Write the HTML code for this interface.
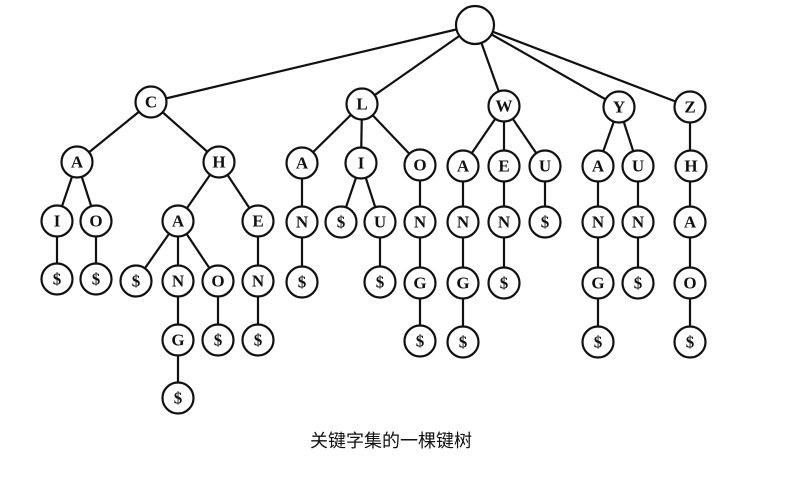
<!DOCTYPE html>
<html><head><meta charset="utf-8"><style>
body{margin:0;background:#fff;width:801px;height:472px;overflow:hidden}
text{font-family:"Liberation Serif",serif;font-size:17px;font-weight:bold;text-anchor:middle;dominant-baseline:central;fill:#111}
.cap{font-family:"Liberation Sans","Noto Sans CJK SC",sans-serif;font-size:18px;font-weight:normal}
</style></head><body>
<svg width="801" height="472" viewBox="0 0 801 472">
<g stroke="#111" stroke-width="2.2">
<line x1="475" y1="25" x2="151" y2="102"/><line x1="475" y1="25" x2="362" y2="104"/><line x1="475" y1="25" x2="504" y2="106"/><line x1="475" y1="25" x2="619" y2="107"/><line x1="475" y1="25" x2="690" y2="107"/>
<line x1="151" y1="102" x2="77" y2="162"/><line x1="151" y1="102" x2="219" y2="162"/>
<line x1="77" y1="162" x2="57" y2="221"/><line x1="77" y1="162" x2="96" y2="221"/>
<line x1="57" y1="221" x2="57" y2="279"/><line x1="96" y1="221" x2="96" y2="279"/>
<line x1="219" y1="162" x2="178" y2="221"/><line x1="219" y1="162" x2="258" y2="221"/>
<line x1="178" y1="221" x2="136" y2="281"/><line x1="178" y1="221" x2="178" y2="281"/><line x1="178" y1="221" x2="218" y2="281"/>
<line x1="178" y1="281" x2="178" y2="398"/><line x1="218" y1="281" x2="218" y2="340"/>
<line x1="258" y1="221" x2="258" y2="340"/>
<line x1="362" y1="104" x2="302" y2="163"/><line x1="362" y1="104" x2="361" y2="163"/><line x1="362" y1="104" x2="420" y2="165"/>
<line x1="302" y1="163" x2="302" y2="282"/>
<line x1="361" y1="163" x2="341" y2="222"/><line x1="361" y1="163" x2="380" y2="222"/><line x1="380" y1="222" x2="380" y2="282"/>
<line x1="420" y1="165" x2="420" y2="341"/>
<line x1="504" y1="106" x2="463" y2="166"/><line x1="504" y1="106" x2="504" y2="166"/><line x1="504" y1="106" x2="545" y2="166"/>
<line x1="463" y1="166" x2="463" y2="342"/><line x1="504" y1="166" x2="504" y2="283"/><line x1="545" y1="166" x2="545" y2="222"/>
<line x1="619" y1="107" x2="598" y2="166"/><line x1="619" y1="107" x2="638" y2="166"/>
<line x1="598" y1="166" x2="598" y2="342"/><line x1="638" y1="166" x2="638" y2="283"/>
<line x1="690" y1="107" x2="690" y2="342"/>
</g>
<g fill="#fff" stroke="#111" stroke-width="2.2">
<circle cx="475" cy="25" r="19"/>
<circle cx="151" cy="102" r="15.5"/><circle cx="362" cy="104" r="15.5"/><circle cx="504" cy="106" r="15.5"/><circle cx="619" cy="107" r="15.5"/><circle cx="690" cy="107" r="15.5"/>
<circle cx="77" cy="162" r="15.5"/><circle cx="219" cy="162" r="15.5"/><circle cx="302" cy="163" r="15.5"/><circle cx="361" cy="163" r="15.5"/><circle cx="420" cy="165" r="15.5"/><circle cx="463" cy="166" r="15.5"/><circle cx="504" cy="166" r="15.5"/><circle cx="545" cy="166" r="15.5"/><circle cx="598" cy="166" r="15.5"/><circle cx="638" cy="166" r="15.5"/><circle cx="691" cy="166" r="15.5"/>
<circle cx="57" cy="221" r="15.5"/><circle cx="96" cy="221" r="15.5"/><circle cx="178" cy="221" r="15.5"/><circle cx="258" cy="221" r="15.5"/><circle cx="302" cy="222" r="15.5"/><circle cx="341" cy="222" r="15.5"/><circle cx="380" cy="222" r="15.5"/><circle cx="420" cy="222" r="15.5"/><circle cx="463" cy="222" r="15.5"/><circle cx="504" cy="222" r="15.5"/><circle cx="545" cy="222" r="15.5"/><circle cx="598" cy="222" r="15.5"/><circle cx="638" cy="222" r="15.5"/><circle cx="690" cy="222" r="15.5"/>
<circle cx="57" cy="279" r="15.5"/><circle cx="96" cy="279" r="15.5"/><circle cx="136" cy="281" r="15.5"/><circle cx="178" cy="281" r="15.5"/><circle cx="218" cy="281" r="15.5"/><circle cx="258" cy="281" r="15.5"/><circle cx="302" cy="282" r="15.5"/><circle cx="380" cy="282" r="15.5"/><circle cx="420" cy="283" r="15.5"/><circle cx="463" cy="283" r="15.5"/><circle cx="504" cy="283" r="15.5"/><circle cx="598" cy="283" r="15.5"/><circle cx="638" cy="283" r="15.5"/><circle cx="690" cy="283" r="15.5"/>
<circle cx="178" cy="340" r="15.5"/><circle cx="218" cy="340" r="15.5"/><circle cx="258" cy="340" r="15.5"/><circle cx="420" cy="341" r="15.5"/><circle cx="463" cy="342" r="15.5"/><circle cx="598" cy="342" r="15.5"/><circle cx="690" cy="342" r="15.5"/>
<circle cx="178" cy="398" r="15.5"/>
</g>
<g>
<text x="151" y="102">C</text><text x="362" y="104">L</text><text x="504" y="106">W</text><text x="619" y="107">Y</text><text x="690" y="107">Z</text>
<text x="77" y="162">A</text><text x="219" y="162">H</text><text x="302" y="163">A</text><text x="361" y="163">I</text><text x="420" y="165">O</text><text x="463" y="166">A</text><text x="504" y="166">E</text><text x="545" y="166">U</text><text x="598" y="166">A</text><text x="638" y="166">U</text><text x="691" y="166">H</text>
<text x="57" y="221">I</text><text x="96" y="221">O</text><text x="178" y="221">A</text><text x="258" y="221">E</text><text x="302" y="222">N</text><text x="341" y="222">$</text><text x="380" y="222">U</text><text x="420" y="222">N</text><text x="463" y="222">N</text><text x="504" y="222">N</text><text x="545" y="222">$</text><text x="598" y="222">N</text><text x="638" y="222">N</text><text x="690" y="222">A</text>
<text x="57" y="279">$</text><text x="96" y="279">$</text><text x="136" y="281">$</text><text x="178" y="281">N</text><text x="218" y="281">O</text><text x="258" y="281">N</text><text x="302" y="282">$</text><text x="380" y="282">$</text><text x="420" y="283">G</text><text x="463" y="283">G</text><text x="504" y="283">$</text><text x="598" y="283">G</text><text x="638" y="283">$</text><text x="690" y="283">O</text>
<text x="178" y="340">G</text><text x="218" y="340">$</text><text x="258" y="340">$</text><text x="420" y="341">$</text><text x="463" y="342">$</text><text x="598" y="342">$</text><text x="690" y="342">$</text>
<text x="178" y="398">$</text>
<text class="cap" x="391" y="441">关键字集的一棵键树</text>
</g>
</svg>
</body></html>
